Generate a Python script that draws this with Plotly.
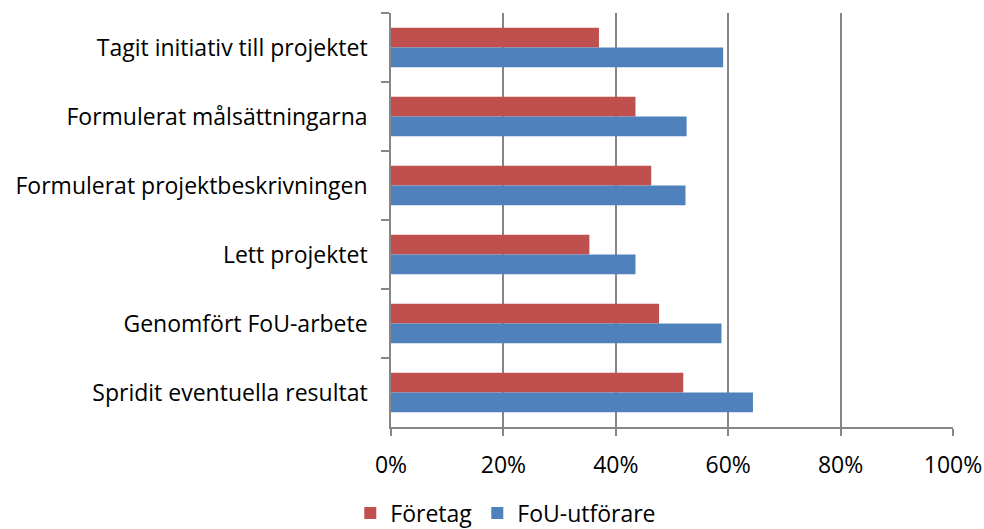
import plotly.graph_objects as go

categories = [
    "Tagit initiativ till projektet",
    "Formulerat målsättningarna",
    "Formulerat projektbeskrivningen",
    "Lett projektet",
    "Genomfört FoU-arbete",
    "Spridit eventuella resultat",
]
foretag = [0.37, 0.435, 0.463, 0.353, 0.477, 0.52]
fou_utforare = [0.591, 0.526, 0.524, 0.435, 0.588, 0.644]

fig = go.Figure()
fig.add_trace(go.Bar(y=categories, x=foretag, name="Företag", orientation="h",
                     marker=dict(color="#C0504D", line=dict(width=0))))
fig.add_trace(go.Bar(y=categories, x=fou_utforare, name="FoU-utförare", orientation="h",
                     marker=dict(color="#4F81BD", line=dict(width=0))))

fig.update_layout(
    width=984, height=529,
    margin=dict(l=391, r=31, t=13, b=102),
    paper_bgcolor="white", plot_bgcolor="white",
    font=dict(family="Open Sans, sans-serif", size=23, color="black"),
    barmode="group", bargap=0.43, bargroupgap=0,
    legend=dict(orientation="h", xref="container", yref="container",
                x=0.514, xanchor="center", y=0.03, yanchor="middle",
                font=dict(size=23), traceorder="normal", itemwidth=30),
)
fig.update_xaxes(
    range=[0, 1], tickvals=[0, 0.2, 0.4, 0.6, 0.8, 1.0], tickformat=".0%",
    showgrid=True, gridcolor="#868686", gridwidth=1.5,
    showline=True, linecolor="#868686", linewidth=1.5,
    ticks="outside", ticklen=7, tickcolor="#868686", tickwidth=1.5,
    ticklabelstandoff=10, zeroline=False, automargin=False,
)
fig.update_yaxes(
    autorange="reversed", tickson="boundaries",
    showline=True, linecolor="#868686", linewidth=1.5,
    ticks="outside", ticklen=8, tickcolor="#868686", tickwidth=1.5,
    ticklabelstandoff=17, showgrid=False, automargin=False,
)

fig.write_html("out.html", config={"displayModeBar": False},
               post_script="document.body.style.margin='0';document.body.style.overflow='hidden';")
